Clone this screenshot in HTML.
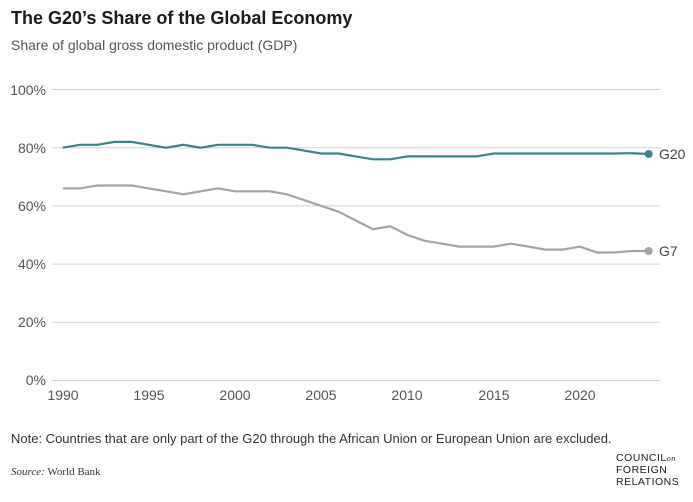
<!DOCTYPE html><html><head><style>body{margin:0;background:#fff;font-family:"Liberation Sans",sans-serif}</style></head><body>
<svg width="693" height="497" xmlns="http://www.w3.org/2000/svg" font-family="Liberation Sans, sans-serif">
<text x="11" y="24" font-size="18" font-weight="bold" fill="#1b1b1b">The G20’s Share of the Global Economy</text>
<text x="11" y="50" font-size="14" fill="#555">Share of global gross domestic product (GDP)</text>
<g stroke="#d0d0d0" stroke-width="1">
<line x1="52" x2="660" y1="89.5" y2="89.5"/><line x1="52" x2="660" y1="147.7" y2="147.7"/><line x1="52" x2="660" y1="205.9" y2="205.9"/><line x1="52" x2="660" y1="264.1" y2="264.1"/><line x1="52" x2="660" y1="322.3" y2="322.3"/><line x1="52" x2="660" y1="380.5" y2="380.5"/></g>
<g font-size="14" fill="#555" text-anchor="end">
<text x="46" y="95">100%</text><text x="46" y="153">80%</text><text x="46" y="211">60%</text><text x="46" y="269">40%</text><text x="46" y="327">20%</text><text x="46" y="385">0%</text></g>
<g font-size="14" fill="#555" text-anchor="middle">
<text x="63" y="400">1990</text><text x="149" y="400">1995</text><text x="235" y="400">2000</text><text x="321" y="400">2005</text><text x="407" y="400">2010</text><text x="494" y="400">2015</text><text x="580" y="400">2020</text></g>
<polyline fill="none" stroke="#35868a" stroke-width="2.2" points="62.7,147.7 79.9,144.8 97.2,144.8 114.4,141.9 131.7,141.9 148.9,144.8 166.1,147.7 183.4,144.8 200.6,147.7 217.9,144.8 235.1,144.8 252.3,144.8 269.6,147.7 286.8,147.7 304.1,150.6 321.3,153.5 338.5,153.5 355.8,156.4 373,159.3 390.3,159.3 407.5,156.4 424.7,156.4 442,156.4 459.2,156.4 476.5,156.4 493.7,153.5 510.9,153.5 528.2,153.5 545.4,153.5 562.7,153.5 579.9,153.5 597.1,153.5 614.4,153.5 631.6,153.2 648.7,154"/>
<polyline fill="none" stroke="#a3a3a3" stroke-width="2.2" points="62.7,188.4 79.9,188.4 97.2,185.5 114.4,185.5 131.7,185.5 148.9,188.4 166.1,191.3 183.4,194.3 200.6,191.3 217.9,188.4 235.1,191.3 252.3,191.3 269.6,191.3 286.8,194.3 304.1,200.1 321.3,205.9 338.5,211.7 355.8,220.5 373,229.2 390.3,226.3 407.5,235 424.7,240.8 442,243.7 459.2,246.6 476.5,246.6 493.7,246.6 510.9,243.7 528.2,246.6 545.4,249.6 562.7,249.6 579.9,246.6 597.1,252.5 614.4,252.5 631.6,251 648.7,251"/>
<circle cx="648.7" cy="154" r="4" fill="#35868a"/><circle cx="648.7" cy="251" r="4" fill="#a3a3a3"/>
<text x="659" y="159" font-size="14" fill="#444">G20</text><text x="659" y="256" font-size="14" fill="#444">G7</text>
<text x="11" y="443" font-size="13" fill="#333">Note: Countries that are only part of the G20 through the African Union or European Union are excluded.</text>
<text x="11" y="475" font-size="11" fill="#333" font-family="Liberation Serif, serif"><tspan font-style="italic">Source:</tspan> World Bank</text>
<g font-size="10.5" fill="#1b1b1b" letter-spacing="0.5"><text x="616" y="461">COUNCIL<tspan font-style="italic" font-family="Liberation Serif, serif" font-size="8">on</tspan></text><text x="616" y="473">FOREIGN</text><text x="616" y="485">RELATIONS</text></g>
</svg></body></html>
